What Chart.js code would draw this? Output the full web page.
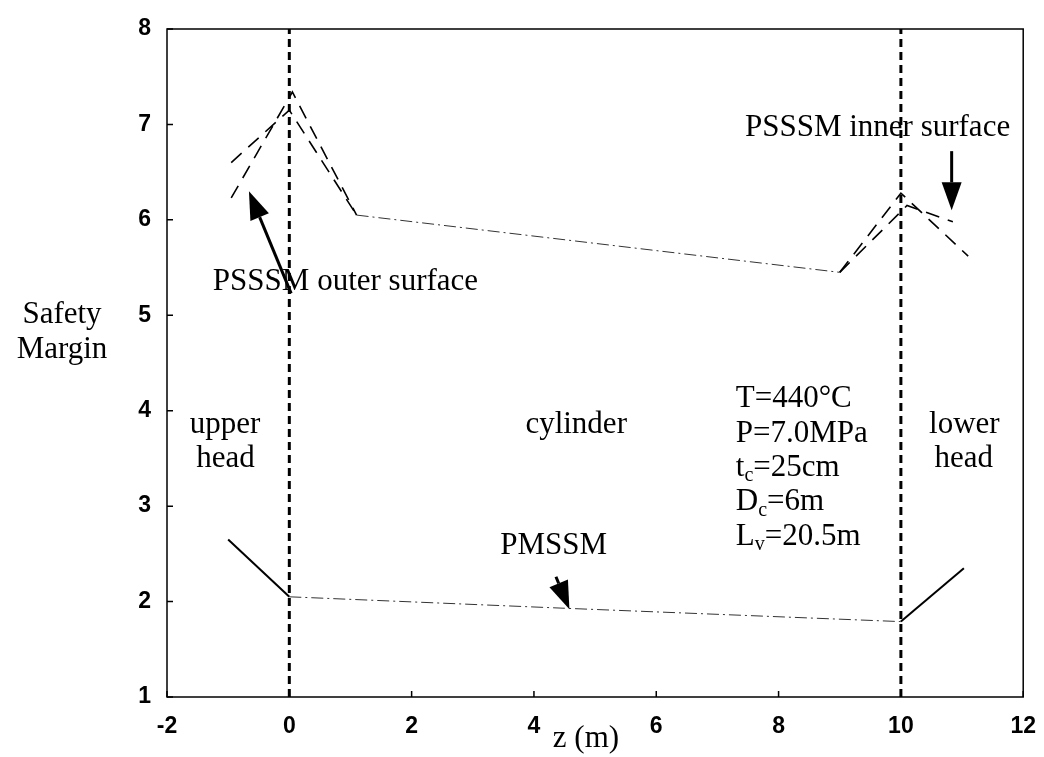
<!DOCTYPE html>
<html>
<head>
<meta charset="utf-8">
<script src="https://cdn.jsdelivr.net/npm/chart.js@4/dist/chart.umd.min.js"></script>
<style>
  html, body { margin: 0; padding: 0; background: #fff; }
  #chart { display: block; }
</style>
</head>
<body>
<canvas id="chart" width="1044" height="757"></canvas>
<script>
// values: z (m) against safety margin
const zTicks = [-2, 0, 2, 4, 6, 8, 10, 12];
const smTicks = [1, 2, 3, 4, 5, 6, 7, 8];

// head / cylinder boundaries
const boundaryZ = [0, 10];
const boundarySM = [1, 8];

// PSSSM, upper head
const outerUpperZ = [-0.95, 0.05, 1.1];
const outerUpperSM = [6.23, 7.34, 6.05];
const innerUpperZ = [-0.95, 0.0, 1.1];
const innerUpperSM = [6.6, 7.15, 6.05];

// PSSSM, cylinder
const psCylZ = [1.1, 9.0];
const psCylSM = [6.05, 5.45];

// PSSSM, lower head
const outerLowerZ = [9.0, 10.0, 11.1];
const outerLowerSM = [5.45, 6.28, 5.62];
const innerLowerZ = [9.0, 10.1, 10.85];
const innerLowerSM = [5.45, 6.15, 5.98];

// PMSSM
const pmUpperZ = [-1.0, 0.0];
const pmUpperSM = [2.65, 2.05];
const pmCylZ = [0.0, 4.5, 10.0];
const pmCylSM = [2.05, 1.93, 1.79];
const pmLowerZ = [10.0, 11.03];
const pmLowerSM = [1.79, 2.35];

// text and arrows placed on the plot (data coordinates)
const notes = [
    { parts: [["PSSSM outer surface"]], z: -1.25, sm: 5.35 },
    { parts: [["PSSSM inner surface"]], z: 7.45, sm: 6.96 },
    { parts: [["PMSSM"]], z: 3.45, sm: 2.58 },
    { parts: [["upper"]], z: -1.63, sm: 3.85 },
    { parts: [["head"]], z: -1.52, sm: 3.5 },
    { parts: [["cylinder"]], z: 3.86, sm: 3.85 },
    { parts: [["lower"]], z: 10.46, sm: 3.85 },
    { parts: [["head"]], z: 10.55, sm: 3.5 },
    { parts: [["T=440°C"]], z: 7.3, sm: 4.12 },
    { parts: [["P=7.0MPa"]], z: 7.3, sm: 3.76 },
    { parts: [["t"], ["c", "sub"], ["=25cm"]], z: 7.3, sm: 3.4 },
    { parts: [["D"], ["c", "sub"], ["=6m"]], z: 7.3, sm: 3.04 },
    { parts: [["L"], ["v", "sub"], ["=20.5m"]], z: 7.3, sm: 2.68 },
];
const arrows = [
    { from: [0.03, 5.23], to: [-0.66, 6.3] },
    { from: [10.83, 6.72], to: [10.83, 6.1] },
    { from: [4.36, 2.26], to: [4.58, 1.92] },
];

function zip(xs, ys) {
    return xs.map((v, i) => ({ x: v, y: ys[i] }));
}

const serif = '"Liberation Serif", "Times New Roman", serif';
const sans = '"Liberation Sans", Arial, sans-serif';

const boxPlugin = {
    id: "box",
    afterDatasetsDraw(chart) {
        const { ctx, chartArea: a, scales: { x, y } } = chart;
        ctx.save();
        ctx.strokeStyle = "#000";
        ctx.lineWidth = 1.5;
        ctx.strokeRect(a.left, a.top, a.right - a.left, a.bottom - a.top);
        ctx.beginPath();
        x.ticks.forEach((t) => {
            const px = x.getPixelForValue(t.value);
            ctx.moveTo(px, a.bottom);
            ctx.lineTo(px, a.bottom - 6);
        });
        y.ticks.forEach((t) => {
            const py = y.getPixelForValue(t.value);
            ctx.moveTo(a.left, py);
            ctx.lineTo(a.left + 6, py);
        });
        ctx.stroke();

        // texts
        ctx.fillStyle = "#000";
        ctx.textBaseline = "middle";
        notes.forEach((n) => {
            let px = x.getPixelForValue(n.z);
            const py = y.getPixelForValue(n.sm);
            n.parts.forEach(([s, kind]) => {
                if (kind === "sub") {
                    ctx.font = "20px " + serif;
                    ctx.fillText(s, px, py + 8);
                } else {
                    ctx.font = "31px " + serif;
                    ctx.fillText(s, px, py);
                }
                px += ctx.measureText(s).width;
            });
        });

        // arrows
        ctx.lineWidth = 3;
        arrows.forEach((ar) => {
            const x0 = x.getPixelForValue(ar.from[0]);
            const y0 = y.getPixelForValue(ar.from[1]);
            const x1 = x.getPixelForValue(ar.to[0]);
            const y1 = y.getPixelForValue(ar.to[1]);
            const ang = Math.atan2(y1 - y0, x1 - x0);
            const len = 28, half = 10;
            const bx = x1 - len * Math.cos(ang);
            const by = y1 - len * Math.sin(ang);
            ctx.beginPath();
            ctx.moveTo(x0, y0);
            ctx.lineTo(bx, by);
            ctx.stroke();
            ctx.beginPath();
            ctx.moveTo(x1, y1);
            ctx.lineTo(bx + half * Math.sin(ang), by - half * Math.cos(ang));
            ctx.lineTo(bx - half * Math.sin(ang), by + half * Math.cos(ang));
            ctx.closePath();
            ctx.fill();
        });

        // axis titles
        ctx.font = "31px " + serif;
        ctx.textAlign = "center";
        ctx.fillText("Safety", 62, 315);
        ctx.fillText("Margin", 62, 350);
        ctx.fillText("z (m)", x.getPixelForValue(4.85), 739);
        ctx.restore();
    },
};

const headDash = [14, 9];
const cylDash = [12, 4, 2, 4];

const ctx = document.getElementById("chart").getContext("2d");
const myChart = new Chart(ctx, {
    type: "scatter",
    data: {
        datasets: [
            { data: zip([boundaryZ[0], boundaryZ[0]], boundarySM), borderWidth: 3, borderDash: [8, 5] },
            { data: zip([boundaryZ[1], boundaryZ[1]], boundarySM), borderWidth: 3, borderDash: [8, 5] },
            { data: zip(outerUpperZ, outerUpperSM), borderWidth: 1.6, borderDash: headDash },
            { data: zip(innerUpperZ, innerUpperSM), borderWidth: 1.6, borderDash: headDash },
            { data: zip(psCylZ, psCylSM), borderWidth: 1, borderDash: cylDash, borderColor: "#333" },
            { data: zip(outerLowerZ, outerLowerSM), borderWidth: 1.6, borderDash: headDash },
            { data: zip(innerLowerZ, innerLowerSM), borderWidth: 1.6, borderDash: headDash },
            { data: zip(pmUpperZ, pmUpperSM), borderWidth: 2 },
            { data: zip(pmCylZ, pmCylSM), borderWidth: 1, borderDash: cylDash, borderColor: "#333" },
            { data: zip(pmLowerZ, pmLowerSM), borderWidth: 2 },
        ],
    },
    options: {
        responsive: false,
        animation: false,
        layout: { padding: { left: 0, right: 15, top: 29, bottom: 0 } },
        datasets: {
            scatter: { showLine: true, borderColor: "#000", pointRadius: 0, fill: false },
        },
        plugins: { legend: { display: false }, tooltip: { enabled: false } },
        scales: {
            x: {
                type: "linear",
                min: zTicks[0],
                max: zTicks[zTicks.length - 1],
                afterBuildTicks: (s) => { s.ticks = zTicks.map((v) => ({ value: v })); },
                grid: { display: false },
                border: { display: false },
                ticks: {
                    color: "#000",
                    padding: 8,
                    font: { family: sans, size: 23, weight: "bold" },
                },
                afterFit: (s) => { s.height = 60; },
            },
            y: {
                type: "linear",
                min: smTicks[0],
                max: smTicks[smTicks.length - 1],
                afterBuildTicks: (s) => { s.ticks = smTicks.map((v) => ({ value: v })); },
                grid: { display: false },
                border: { display: false },
                ticks: {
                    color: "#000",
                    padding: 8,
                    font: { family: sans, size: 23, weight: "bold" },
                },
                afterFit: (s) => { s.width = 167; },
            },
        },
    },
    plugins: [boxPlugin],
});
</script>
</body>
</html>
